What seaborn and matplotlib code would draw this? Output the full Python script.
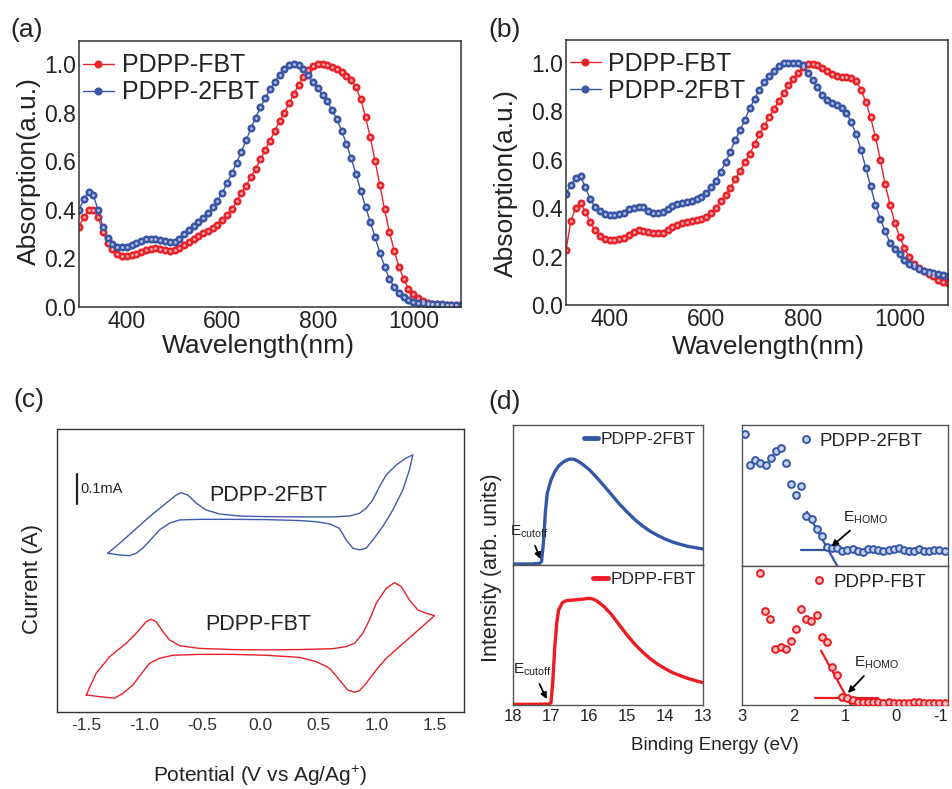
import numpy as np
import pandas as pd
import seaborn as sns
import matplotlib
import matplotlib.pyplot as plt
import matplotlib.font_manager as fm
from matplotlib.lines import Line2D

# ---------------- data ----------------
# (a) film absorption
wl_a = list(range(300, 1101, 10))
abs_a_fbt = [0.33, 0.37, 0.40, 0.40, 0.37, 0.31, 0.265, 0.237, 0.218, 0.21,
             0.21, 0.213, 0.218, 0.226, 0.235, 0.24, 0.241, 0.239, 0.235, 0.232,
             0.235, 0.243, 0.255, 0.267, 0.281, 0.294, 0.303, 0.314, 0.325, 0.339,
             0.358, 0.377, 0.402, 0.435, 0.468, 0.50, 0.536, 0.569, 0.608, 0.646,
             0.684, 0.726, 0.764, 0.80, 0.838, 0.877, 0.914, 0.948, 0.975, 0.992,
             1.0, 0.999, 0.996, 0.989, 0.979, 0.968, 0.952, 0.934, 0.904, 0.855,
             0.783, 0.698, 0.602, 0.502, 0.402, 0.31, 0.232, 0.166, 0.114, 0.075,
             0.052, 0.036, 0.025, 0.018, 0.014, 0.011, 0.010, 0.009, 0.008, 0.008,
             0.008]
abs_a_2fbt = [0.40, 0.443, 0.475, 0.46, 0.40, 0.33, 0.284, 0.259, 0.248, 0.246,
              0.248, 0.254, 0.262, 0.27, 0.278, 0.28, 0.278, 0.276, 0.27, 0.266,
              0.267, 0.281, 0.30, 0.317, 0.333, 0.35, 0.366, 0.385, 0.41, 0.438,
              0.47, 0.509, 0.55, 0.594, 0.639, 0.687, 0.735, 0.78, 0.822, 0.859,
              0.896, 0.927, 0.955, 0.978, 0.995, 1.0, 0.997, 0.978, 0.953, 0.926,
              0.90, 0.874, 0.846, 0.811, 0.772, 0.726, 0.671, 0.612, 0.547, 0.479,
              0.413, 0.35, 0.287, 0.224, 0.166, 0.117, 0.081, 0.056, 0.04, 0.029,
              0.022, 0.018, 0.015, 0.013, 0.012, 0.011, 0.011, 0.01, 0.01, 0.01,
              0.01]
# (b) absorption (second condition)
wl_b = list(range(310, 1101, 10))
abs_b_fbt = [0.226, 0.347, 0.401, 0.421, 0.386, 0.343, 0.308, 0.287, 0.274, 0.27,
             0.27, 0.271, 0.277, 0.29, 0.302, 0.308, 0.307, 0.302, 0.297, 0.296,
             0.298, 0.31, 0.322, 0.332, 0.338, 0.344, 0.348, 0.351, 0.356, 0.365,
             0.38, 0.40, 0.428, 0.455, 0.484, 0.52, 0.555, 0.59, 0.625, 0.665,
             0.705, 0.74, 0.775, 0.81, 0.843, 0.875, 0.907, 0.935, 0.96, 0.984,
             0.994, 0.995, 0.992, 0.98, 0.966, 0.955, 0.946, 0.944, 0.944, 0.94,
             0.924, 0.89, 0.84, 0.775, 0.695, 0.60, 0.50, 0.415, 0.338, 0.283,
             0.235, 0.197, 0.17, 0.154, 0.141, 0.129, 0.118, 0.105, 0.096, 0.089]
abs_b_2fbt = [0.459, 0.497, 0.523, 0.532, 0.486, 0.438, 0.404, 0.388, 0.377, 0.37,
              0.37, 0.377, 0.379, 0.395, 0.401, 0.404, 0.404, 0.39, 0.379, 0.379,
              0.384, 0.397, 0.408, 0.418, 0.421, 0.425, 0.429, 0.436, 0.445, 0.462,
              0.486, 0.514, 0.551, 0.589, 0.634, 0.682, 0.722, 0.766, 0.812, 0.852,
              0.89, 0.92, 0.948, 0.968, 0.987, 1.0, 1.0, 1.0, 1.0, 0.99,
              0.96, 0.928, 0.9, 0.867, 0.847, 0.835, 0.827, 0.813, 0.795, 0.755,
              0.705, 0.642, 0.565, 0.49, 0.415, 0.356, 0.305, 0.258, 0.232, 0.21,
              0.187, 0.171, 0.163, 0.15, 0.141, 0.137, 0.134, 0.127, 0.123, 0.119]

# (c) cyclic voltammetry (potential V, current in mA with offsets)
cv_2fbt_V = [-1.313, -1.212, -1.098, -0.954, -0.811, -0.725, -0.682, -0.625, -0.553, -0.467,
             -0.353, -0.181, 0.049, 0.335, 0.622, 0.765, 0.851, 0.909, 0.966, 1.023,
             1.081, 1.167, 1.252, 1.310, 1.281, 1.224, 1.138, 1.052, 0.966, 0.909,
             0.851, 0.794, 0.737, 0.679, 0.593, 0.479, 0.335, 0.049, -0.238, -0.525,
             -0.696, -0.782, -0.868, -0.940, -1.012, -1.069, -1.126, -1.212, -1.313]
cv_2fbt_I = [0.529, 0.562, 0.601, 0.651, 0.696, 0.723, 0.731, 0.723, 0.696, 0.673,
             0.660, 0.653, 0.651, 0.650, 0.650, 0.653, 0.662, 0.679, 0.707, 0.751,
             0.790, 0.823, 0.846, 0.857, 0.807, 0.740, 0.673, 0.618, 0.573, 0.546,
             0.540, 0.546, 0.573, 0.612, 0.627, 0.634, 0.638, 0.641, 0.642, 0.642,
             0.640, 0.629, 0.607, 0.576, 0.546, 0.529, 0.521, 0.523, 0.529]
cv_fbt_V = [-1.499, -1.413, -1.298, -1.155, -1.069, -0.983, -0.940, -0.897, -0.840, -0.782,
            -0.696, -0.525, -0.238, 0.049, 0.335, 0.622, 0.737, 0.808, 0.880, 0.937,
            0.995, 1.081, 1.152, 1.210, 1.281, 1.353, 1.424, 1.496, 1.424, 1.310,
            1.195, 1.081, 0.995, 0.909, 0.851, 0.808, 0.751, 0.679, 0.593, 0.479,
            0.335, 0.049, -0.238, -0.525, -0.754, -0.868, -0.954, -1.012, -1.098,
            -1.184, -1.255, -1.384, -1.499]
cv_fbt_I = [0.057, 0.129, 0.184, 0.229, 0.262, 0.301, 0.309, 0.301, 0.268, 0.240,
            0.221, 0.212, 0.208, 0.207, 0.208, 0.211, 0.218, 0.229, 0.262, 0.307,
            0.362, 0.412, 0.431, 0.418, 0.373, 0.340, 0.329, 0.321, 0.296, 0.257,
            0.218, 0.179, 0.140, 0.096, 0.071, 0.066, 0.073, 0.107, 0.146, 0.168,
            0.182, 0.189, 0.192, 0.192, 0.189, 0.179, 0.162, 0.134, 0.090,
            0.062, 0.046, 0.051, 0.057]
cv_ticks = [-1.5, -1.0, -0.5, 0.0, 0.5, 1.0, 1.5]

# (d) UPS secondary-electron cutoff region
be_cut_2fbt = [18.0, 17.5, 17.3, 17.25, 17.2, 17.15, 17.1, 17.0, 16.9, 16.8, 16.7, 16.6,
               16.5, 16.4, 16.3, 16.2, 16.0, 15.8, 15.6, 15.4, 15.2, 15.0, 14.8, 14.6,
               14.4, 14.2, 14.0, 13.8, 13.6, 13.4, 13.2, 13.0]
int_cut_2fbt = [0.007, 0.007, 0.012, 0.024, 0.155, 0.369, 0.512, 0.607, 0.667, 0.707, 0.731,
                0.748, 0.757, 0.755, 0.743, 0.726, 0.683, 0.626, 0.564, 0.50, 0.436, 0.379,
                0.326, 0.281, 0.243, 0.212, 0.186, 0.164, 0.148, 0.133, 0.124, 0.114]
be_cut_fbt = [18.0, 17.5, 17.05, 17.0, 16.95, 16.9, 16.85, 16.8, 16.7, 16.6, 16.5, 16.4,
              16.2, 16.0, 15.9, 15.8, 15.6, 15.4, 15.2, 15.0, 14.8, 14.6, 14.4, 14.2,
              14.0, 13.8, 13.6, 13.4, 13.2, 13.0]
int_cut_fbt = [0.005, 0.005, 0.007, 0.017, 0.179, 0.417, 0.583, 0.679, 0.731, 0.745, 0.748,
               0.75, 0.755, 0.762, 0.757, 0.745, 0.702, 0.643, 0.571, 0.50, 0.436, 0.381,
               0.333, 0.293, 0.26, 0.231, 0.21, 0.19, 0.174, 0.16]
# (d) UPS HOMO onset region
be_homo_2fbt = [2.948, 2.852, 2.748, 2.645, 2.542, 2.445, 2.348, 2.245, 2.142, 2.039,
                1.942, 1.845, 1.748, 1.645, 1.548, 1.452, 1.348, 1.252, 1.155, 1.058,
                0.955, 0.852, 0.755, 0.658, 0.555, 0.452, 0.355, 0.258, 0.155, 0.058,
                -0.039, -0.142, -0.239, -0.335, -0.439, -0.535, -0.632, -0.735, -0.832, -0.935]
int_homo_2fbt = [0.936, 0.714, 0.752, 0.733, 0.719, 0.766, 0.813, 0.839, 0.730, 0.584,
                 0.501, 0.567, 0.352, 0.336, 0.260, 0.215, 0.137, 0.130, 0.125, 0.109,
                 0.113, 0.118, 0.109, 0.102, 0.123, 0.121, 0.113, 0.109, 0.113, 0.121,
                 0.130, 0.113, 0.109, 0.109, 0.121, 0.109, 0.104, 0.116, 0.111, 0.106]
be_homo_fbt = [2.658, 2.548, 2.452, 2.355, 2.252, 2.155, 2.052, 1.948, 1.852, 1.755,
               1.652, 1.548, 1.452, 1.348, 1.252, 1.148, 1.052, 0.955, 0.852, 0.755,
               0.658, 0.555, 0.452, 0.355, 0.258, 0.155, 0.058, -0.039, -0.142, -0.239,
               -0.335, -0.439, -0.535, -0.632, -0.735, -0.832, -0.935]
int_homo_fbt = [0.947, 0.676, 0.616, 0.400, 0.415, 0.400, 0.460, 0.544, 0.688, 0.621,
                0.602, 0.645, 0.487, 0.453, 0.271, 0.218, 0.055, 0.053, 0.036, 0.024,
                0.024, 0.024, 0.024, 0.019, 0.017, 0.021, 0.017, 0.017, 0.017, 0.017,
                0.024, 0.019, 0.014, 0.012, 0.012, 0.012, 0.012]
# linear-fit guide lines for onset determination
fit_2fbt_slope_x = [1.742, 1.142]
fit_2fbt_slope_y = [0.385, -0.005]
fit_2fbt_base_x = [1.852, 1.271]
fit_2fbt_base_y = [0.113, 0.113]
fit_fbt_slope_x = [1.465, 0.884]
fit_fbt_slope_y = [0.391, 0.0]
fit_fbt_base_x = [1.574, 0.368]
fit_fbt_base_y = [0.048, 0.048]

# ---------------- style ----------------
sns.set_theme(style="white")
names = {f.name for f in fm.fontManager.ttflist}
SANS = "Liberation Sans" if "Liberation Sans" in names else "DejaVu Sans"
NARROW = "Liberation Sans Narrow" if "Liberation Sans Narrow" in names else SANS
plt.rcParams["font.family"] = [SANS, "DejaVu Sans"]
plt.rcParams["mathtext.fontset"] = "custom"
plt.rcParams["mathtext.rm"] = SANS
plt.rcParams["mathtext.it"] = SANS
plt.rcParams["axes.facecolor"] = "white"

RED = "#e8232b"
BLUE = "#3a55a4"
TXT = "#222222"
W, H = 952, 789

fig = plt.figure(figsize=(W / 100, H / 100), dpi=100)


def rect(l, t, r, b):
    return [l / W, 1 - b / H, (r - l) / W, (b - t) / H]


def frame(ax, color="#333333", lw=1.2):
    for s in ax.spines.values():
        s.set_visible(True)
        s.set_color(color)
        s.set_linewidth(lw)


def absorption(ax, wl, fbt, tfbt, xlim, ylab_x, ylab_y, xlab_x, xlab_y):
    sns.lineplot(x=wl, y=fbt, ax=ax, color=RED, lw=1.0, marker="o", markersize=5.8,
                 markeredgecolor=RED, markeredgewidth=0.0, label="PDPP-FBT",
                 estimator=None, sort=False)
    sns.lineplot(x=wl, y=tfbt, ax=ax, color=BLUE, lw=1.0, marker="o", markersize=5.8,
                 markeredgecolor=BLUE, markeredgewidth=0.0, label="PDPP-2FBT",
                 estimator=None, sort=False)
    ax.plot(wl, fbt, ls="none", marker="o", markersize=1.0, color="#f3b0b0", label="_nolegend_")
    ax.plot(wl, tfbt, ls="none", marker="o", markersize=1.0, color="#b5c1e6", label="_nolegend_")
    ax.set_xlim(*xlim)
    ax.set_ylim(0, 1.095)
    ax.set_xticks([400, 600, 800, 1000])
    ax.set_yticks([0.0, 0.2, 0.4, 0.6, 0.8, 1.0])
    ax.set_yticklabels(["0.0", "0.2", "0.4", "0.6", "0.8", "1.0"])
    ax.tick_params(length=0, labelsize=16.5, labelcolor=TXT, pad=2)
    ax.set_xlabel("Wavelength(nm)", fontsize=19, color=TXT)
    ax.set_ylabel("Absorption(a.u.)", fontsize=19, color=TXT)
    ax.xaxis.set_label_coords(xlab_x, xlab_y)
    ax.yaxis.set_label_coords(ylab_x, ylab_y)
    frame(ax, "#333333", 1.1)
    ax.legend(loc="upper left", bbox_to_anchor=(0.0, 0.968), frameon=False, fontsize=18,
              handlelength=1.25, handletextpad=0.3, labelspacing=0.12,
              borderaxespad=0.05, borderpad=0.1, labelcolor=TXT)


# (a)
ax_a = fig.add_axes(rect(79, 41, 461, 307))
absorption(ax_a, wl_a, abs_a_fbt, abs_a_2fbt, (300, 1100), -0.10, 0.51, 0.47, -0.10)
# (b)
ax_b = fig.add_axes(rect(566, 40, 948, 305))
absorption(ax_b, wl_b, abs_b_fbt, abs_b_2fbt, (310, 1100), -0.125, 0.46, 0.53, -0.115)

# (c)
ax_c = fig.add_axes(rect(57, 429, 464, 712))
sns.lineplot(x=cv_2fbt_V, y=cv_2fbt_I, ax=ax_c, color="#3e5cab", lw=1.0, sort=False, estimator=None)
sns.lineplot(x=cv_fbt_V, y=cv_fbt_I, ax=ax_c, color="#e8202a", lw=1.0, sort=False, estimator=None)
ax_c.set_xlim(-1.75, 1.75)
ax_c.set_ylim(0, 0.943)
ax_c.set_xticks(cv_ticks)
ax_c.set_xticklabels([f"{t:.1f}" for t in cv_ticks])
ax_c.set_yticks([])
ax_c.tick_params(length=0, labelsize=12.5, labelcolor="#333333", pad=4)
frame(ax_c, "#333333", 1.0)
ax_c.set_xlabel("Potential (V vs Ag/Ag$^{+}$)", fontsize=15, color=TXT)
ax_c.xaxis.set_label_coords(0.5, -0.185)
ax_c.set_ylabel("Current (A)", fontsize=16, color=TXT)
ax_c.yaxis.set_label_coords(-0.035, 0.47)
ax_c.plot([-1.576, -1.576], [0.692, 0.792], color="#222222", lw=1.6)
ax_c.text(-1.545, 0.743, "0.1mA", fontsize=10.5, color=TXT, va="center", ha="left")
ax_c.text(0.063, 0.723, "PDPP-2FBT", fontsize=15.5, color=TXT, va="center", ha="center")
ax_c.text(-0.023, 0.293, "PDPP-FBT", fontsize=15.5, color=TXT, va="center", ha="center")

# (d) left: secondary-electron cutoff
ax_d1 = fig.add_axes(rect(513, 425, 703, 565))
ax_d2 = fig.add_axes(rect(513, 565, 703, 705))
sns.lineplot(x=be_cut_2fbt, y=int_cut_2fbt, ax=ax_d1, color="#3457a8", lw=2.4,
             sort=False, estimator=None)
sns.lineplot(x=be_cut_fbt, y=int_cut_fbt, ax=ax_d2, color="#ec1c24", lw=2.4,
             sort=False, estimator=None)
for ax in (ax_d1, ax_d2):
    ax.set_xlim(18, 13)
    ax.set_ylim(0, 1)
    ax.set_yticks([])
    frame(ax, "#555555", 1.0)
    ax.set_xlabel("")
    ax.set_ylabel("")
ax_d1.set_xticks([])
ax_d2.set_xticks([18, 17, 16, 15, 14, 13])
ax_d2.tick_params(length=0, labelsize=12, labelcolor=TXT, pad=3)
for lab in ax_d2.get_xticklabels():
    lab.set_family([NARROW, "DejaVu Sans"])

h1 = Line2D([], [], color="#3457a8", lw=3.5)
h2 = Line2D([], [], color="#ec1c24", lw=3.5)
leg_kw = dict(loc="upper right", bbox_to_anchor=(1.0, 1.0), frameon=False,
              handlelength=0.85, handletextpad=0.15, borderaxespad=0.05, borderpad=0.35,
              prop={"family": [NARROW, "DejaVu Sans"], "size": 12.5})
ax_d1.legend([h1], ["PDPP-2FBT"], **leg_kw)
ax_d2.legend([h2], ["PDPP-FBT"], **leg_kw)

ann_kw = dict(arrowprops=dict(arrowstyle="-|>", color="black", lw=1.3, mutation_scale=9),
              fontsize=11, ha="center", va="center", family=[NARROW, "DejaVu Sans"], color=TXT)
ax_d1.annotate(r"E$_{\rm cutoff}$", xy=(17.25, 0.024), xytext=(17.57, 0.238), **ann_kw)
ax_d2.annotate(r"E$_{\rm cutoff}$", xy=(17.08, 0.024), xytext=(17.48, 0.25), **ann_kw)

# (d) right: HOMO onset
ax_d3 = fig.add_axes(rect(742, 425, 948, 566))
ax_d4 = fig.add_axes(rect(742, 566, 948, 705))
sns.scatterplot(x=be_homo_2fbt, y=int_homo_2fbt, ax=ax_d3, color="#c8d2ee", edgecolor="#3457a8",
                linewidth=1.4, s=24, zorder=3)
sns.scatterplot(x=be_homo_fbt, y=int_homo_fbt, ax=ax_d4, color="#f6c2c2", edgecolor="#ec1c24",
                linewidth=1.4, s=24, zorder=3)
ax_d3.plot(fit_2fbt_slope_x, fit_2fbt_slope_y, color="#3457a8", lw=1.6, zorder=2)
ax_d3.plot(fit_2fbt_base_x, fit_2fbt_base_y, color="#3457a8", lw=1.6, zorder=2)
ax_d4.plot(fit_fbt_slope_x, fit_fbt_slope_y, color="#ec1c24", lw=1.6, zorder=2)
ax_d4.plot(fit_fbt_base_x, fit_fbt_base_y, color="#ec1c24", lw=1.6, zorder=2)
for ax in (ax_d3, ax_d4):
    ax.set_xlim(3, -1)
    ax.set_ylim(0, 1)
    ax.set_yticks([])
    frame(ax, "#555555", 1.0)
    ax.set_xlabel("")
    ax.set_ylabel("")
ax_d3.set_xticks([])
ax_d4.set_xticks([3, 2, 1, 0, -1])
ax_d4.set_xticklabels(["3", "2", "1", "0", "-1"])
ax_d4.tick_params(length=0, labelsize=12, labelcolor=TXT, pad=3)
for lab in ax_d4.get_xticklabels():
    lab.set_family([NARROW, "DejaVu Sans"])
ax_d4.get_xticklabels()[-1].set_ha("right")

m1 = Line2D([], [], ls="none", marker="o", ms=5, mfc="#c8d2ee", mec="#3457a8", mew=1.4)
m2 = Line2D([], [], ls="none", marker="o", ms=5, mfc="#f6c2c2", mec="#ec1c24", mew=1.4)
leg_kw2 = dict(loc="upper right", frameon=False, handlelength=0.6, handletextpad=0.45,
               borderaxespad=0.1, borderpad=0.3,
               prop={"family": [NARROW, "DejaVu Sans"], "size": 13.5})
ax_d3.legend([m1], ["PDPP-2FBT"], bbox_to_anchor=(0.915, 1.0), **leg_kw2)
ax_d4.legend([m2], ["PDPP-FBT"], bbox_to_anchor=(0.93, 1.0), **leg_kw2)
ax_d3.annotate(r"E$_{\rm HOMO}$", xy=(1.303, 0.125), xytext=(0.606, 0.345), **ann_kw)
ax_d4.annotate(r"E$_{\rm HOMO}$", xy=(0.981, 0.072), xytext=(0.387, 0.305), **ann_kw)

fig.text(715 / W, 1 - 745 / H, "Binding Energy (eV)", fontsize=13.5, ha="center", va="center",
         color=TXT, family=[NARROW, "DejaVu Sans"])
fig.text(491 / W, 1 - 568 / H, "Intensity (arb. units)", fontsize=15.5, ha="center", va="center",
         rotation=90, color=TXT, family=[NARROW, "DejaVu Sans"])

# panel labels
for lbl, x, y in [("(a)", 10, 30), ("(b)", 488, 30), ("(c)", 13, 400), ("(d)", 488, 402)]:
    fig.text(x / W, 1 - y / H, lbl, fontsize=19, ha="left", va="center", color=TXT)

fig.savefig("out.png", dpi=100, facecolor="white")
